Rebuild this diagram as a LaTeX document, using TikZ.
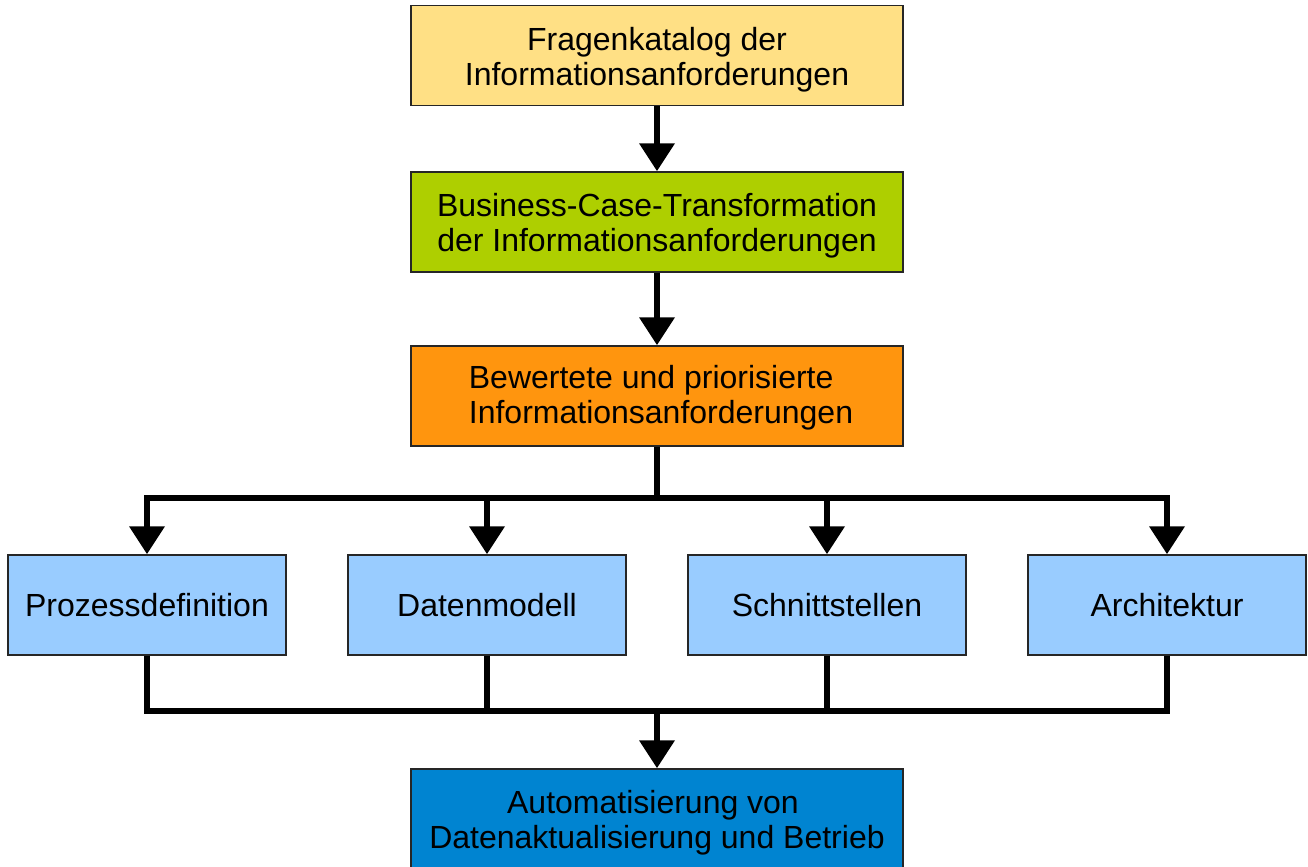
\documentclass[tikz,border=0pt]{standalone}
\usepackage{fontspec}
\setmainfont{Liberation Sans}
\usepackage{tikz}
\usetikzlibrary{arrows.meta}

\definecolor{katgelb}{HTML}{FFE085}
\definecolor{bcgruen}{HTML}{AECF00}
\definecolor{bworange}{HTML}{FF950E}
\definecolor{hellblau}{HTML}{99CCFF}
\definecolor{dunkelblau}{HTML}{0084D1}
\newcommand{\oben}{\rule{0pt}{15.6pt}}

\begin{document}
\begin{tikzpicture}
	[x=0.5pt, y=-0.5pt,
	 box/.style={draw=black!85, line width=0.7pt, align=center, inner sep=0pt,
	   minimum width=246pt, minimum height=50pt,
	   font=\fontsize{16}{17.5}\selectfont},
	 smallbox/.style={box, minimum width=139pt},
	 line/.style={line width=3.4pt, line join=miter},
	 arrow/.style={line, -{Triangle[width=17pt, length=14pt]}}]
   \useasboundingbox (0,0) rectangle (1308,867);
   \node[box, fill=katgelb] (katalog) at (657,55.5) {\oben Fragenkatalog der\\Informationsanforderungen};
   \node[box, fill=bcgruen] (bcase) at (657,222) {\oben Business-Case-Transformation\\der Informationsanforderungen};
   \node[box, fill=bworange] (bewert) at (657,396)
      {\hspace*{4pt}\begin{tabular}{@{}l@{}}\oben Bewertete und priorisierte\\Informationsanforderungen\end{tabular}};
   \node[smallbox, fill=hellblau] (proz) at (147,605) {Prozessdefinition};
   \node[smallbox, fill=hellblau] (daten) at (487,605) {Datenmodell};
   \node[smallbox, fill=hellblau] (schnitt) at (827,605) {Schnittstellen};
   \node[smallbox, fill=hellblau] (arch) at (1167,605) {Architektur};
   \node[box, fill=dunkelblau] (auto) at (657,819) {\oben Automatisierung von\hspace*{4pt}\\Datenaktualisierung und Betrieb};
   \coordinate (split) at (657,498);
   \coordinate (join) at (657,711);
    \draw[arrow] (katalog) -- (bcase);
    \draw[arrow] (bcase) -- (bewert);
    \draw[line] (bewert) -- (split);
    \foreach \n in {proz,daten,schnitt,arch}
      \draw[arrow] (split) -| (\n.north);
    \foreach \n in {proz,daten,schnitt,arch}
      \draw[line] (\n.south) |- (join);
    \draw[arrow] (join) -- (auto);
\end{tikzpicture}
\end{document}
